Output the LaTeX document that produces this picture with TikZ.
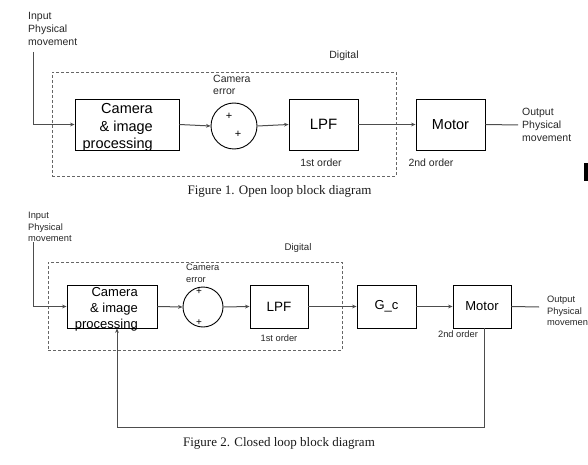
\documentclass[tikz,border=0pt]{standalone}
\usepackage{fontspec}
\setmainfont{Liberation Sans}
\newfontfamily\capfont{Liberation Serif}
\usetikzlibrary{arrows.meta}
\definecolor{linegray}{HTML}{4D4D4D}
\definecolor{dashgray}{HTML}{666666}
\tikzset{
  blk/.style={draw=black, line width=0.9pt, rectangle, inner sep=0pt},
  sumc/.style={draw=black, line width=0.9pt, circle, inner sep=0pt},
  conn/.style={draw=linegray, line width=1pt, -{Stealth[length=4.5pt,width=3.8pt]}},
  plainline/.style={draw=linegray, line width=1pt},
  dashbox/.style={draw=dashgray, line width=0.9pt, dash pattern=on 3pt off 2pt, rectangle, inner sep=0pt},
  lblA/.style={font=\fontsize{10.5}{13}\selectfont, inner sep=0pt, align=left, text=black!85},
  lblB/.style={font=\fontsize{9.3}{11.7}\selectfont, inner sep=0pt, align=left, text=black!85},
  bigA/.style={font=\fontsize{14.5}{17.5}\selectfont, inner sep=0pt, align=right},
  bigB/.style={font=\fontsize{13}{16}\selectfont, inner sep=0pt, align=right},
  capt/.style={font=\capfont\fontsize{13}{15}\selectfont, inner sep=0pt, text=black!90},
  plus/.style={font=\fontsize{11}{11}\selectfont, inner sep=0pt},
}
\begin{document}
\begin{tikzpicture}[x=1pt,y=-1pt]
\useasboundingbox (0,0) rectangle (588,465);

% ---------------- Figure 1 ----------------
\node[lblA, anchor=west] (in1) at (28,29) {Input\\Physical\\movement};
\node[dashbox, minimum width=344, minimum height=104] (dig1) at (224,124) {};
\node[lblA] (dig1l) at (344,56) {Digital};
\node[blk, minimum width=104, minimum height=51] (cam1) at (127,124.5) {};
\node[bigA, anchor=east] (cam1t) at (153,127.5) {Camera\\\& image\\processing};
\node[sumc, minimum size=46] (sum1) at (234,126) {};
\node[plus] (p1a) at (229,116) {+};
\node[plus] (p1b) at (238,134) {+};
\node[lblA, anchor=west, font=\fontsize{10.5}{12}\selectfont] (err1) at (213,85) {Camera\\error};
\node[blk, minimum width=69, minimum height=51, font=\fontsize{15}{15}\selectfont] (lpf1) at (323.5,124.5) {LPF};
\node[lblA] (o1a) at (321,163) {1st order};
\node[blk, minimum width=69, minimum height=51, font=\fontsize{14.5}{15}\selectfont] (mot1) at (450.5,124.5) {Motor};
\node[lblA] (o1b) at (431,163) {2nd order};
\node[lblA, anchor=west] (out1) at (522,125) {Output\\Physical\\movement};
\coordinate (in1s) at (33,52);
\coordinate (out1e) at (518,125);
\draw[conn] (in1s) |- (cam1.west);
\draw[conn] (cam1.east) -- (sum1.west);
\draw[conn] (sum1.east) -- (lpf1.west);
\draw[conn] (lpf1.east) -- (mot1.west);
\draw[plainline] (mot1.east) -- (out1e);
\node[capt] (cap1) at (279.5,191) {Figure 1. Open loop block diagram};
\fill[black] (584,163) rectangle (588,181);

% ---------------- Figure 2 ----------------
\node[lblB, anchor=west] (in2) at (28,227) {Input\\Physical\\movement};
\node[dashbox, minimum width=294, minimum height=88] (dig2) at (195,306) {};
\node[lblB, font=\fontsize{9.7}{11}\selectfont] (dig2l) at (298,248) {Digital};
\node[blk, minimum width=90, minimum height=43] (cam2) at (112,306.5) {};
\node[bigB, anchor=east] (cam2t) at (138,309) {Camera\\\& image\\processing};
\node[sumc, minimum size=40] (sum2) at (203,307) {};
\node[plus, font=\fontsize{10}{10}\selectfont] (p2a) at (199,292) {+};
\node[plus, font=\fontsize{10}{10}\selectfont] (p2b) at (199,323) {+};
\node[lblB, anchor=west, font=\fontsize{9.3}{12}\selectfont] (err2) at (186,273) {Camera\\error};
\node[blk, minimum width=58, minimum height=43, font=\fontsize{13.5}{14}\selectfont] (lpf2) at (279,306.5) {LPF};
\node[lblB] (o2a) at (279,338) {1st order};
\node[blk, minimum width=59, minimum height=43, font=\fontsize{13}{14}\selectfont] (gc2) at (386.5,306.5) {G\_c};
\node[blk, minimum width=58, minimum height=43, font=\fontsize{13}{14}\selectfont] (mot2) at (482,306.5) {Motor};
\node[lblB] (o2b) at (458,334) {2nd order};
\node[lblB, anchor=west] (out2) at (547,311) {Output\\Physical\\movement};
\coordinate (in2s) at (33,242);
\coordinate (out2e) at (539,307);
\coordinate (fb1) at (484,427);
\coordinate (fb2) at (117,427);
\draw[conn] (in2s) |- (cam2.west);
\draw[conn] (cam2.east) -- (sum2.west);
\draw[conn] (sum2.east) -- (lpf2.west);
\draw[conn] (lpf2.east) -- (gc2.west);
\draw[conn] (gc2.east) -- (mot2.west);
\draw[plainline] (mot2.east) -- (out2e);
\draw[conn] (mot2.south -| fb1) -- (fb1) -- (fb2) -- (cam2.south -| fb2);
\node[capt] (cap2) at (279,443) {Figure 2. Closed loop block diagram};
\end{tikzpicture}
\end{document}
